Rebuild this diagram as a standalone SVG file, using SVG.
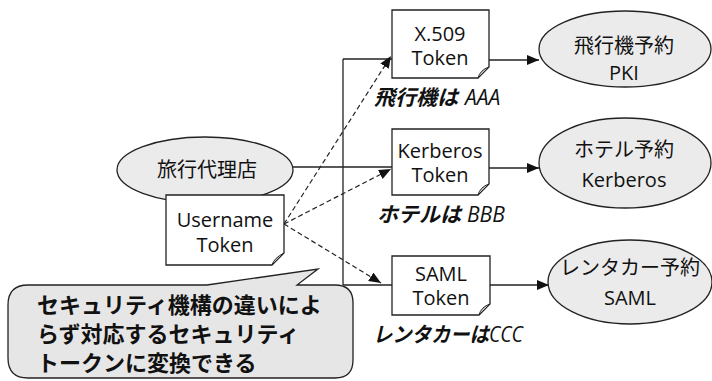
<svg xmlns="http://www.w3.org/2000/svg" width="712" height="381" viewBox="0 0 712 381">
<style>
.ln{fill:none;stroke:#222;stroke-width:1.3}
.ds{fill:none;stroke:#222;stroke-width:1.2;stroke-dasharray:5 3}
.el{fill:#ebebeb;stroke:#222;stroke-width:1.3}
.bx{fill:#fff;stroke:#222;stroke-width:1.3}
.fold{fill:#c8c8c8;stroke:#222;stroke-width:1}
.t{font-family:"Open Sans","Noto Sans CJK JP",sans-serif;font-size:20px;fill:#111;text-anchor:middle}
.j{font-family:"Noto Sans CJK JP",sans-serif;font-size:20px;fill:#111;text-anchor:middle}
.lb{font-family:"Open Sans","Noto Sans CJK JP",sans-serif;font-size:21px;font-style:italic;fill:#111}
.lbj{font-family:"Noto Sans CJK JP",sans-serif;font-weight:bold;font-size:21px}
.co{font-family:"Noto Sans CJK JP",sans-serif;font-size:22px;font-weight:bold;fill:#111}
</style>
<defs>
<marker id="ah" markerUnits="userSpaceOnUse" markerWidth="13" markerHeight="11" refX="12" refY="5" orient="auto">
<path d="M0,0 L12,5 L0,10 Z" fill="#111"/>
</marker>
</defs>

<g id="connectors">
<path class="ln" d="M293,167 H392"/>
<path class="ln" d="M343,59 V285"/>
<path class="ln" d="M343,59 H392"/>
<path class="ln" d="M343,285 H392"/>
<path class="ds" d="M284,224 L391,56" marker-end="url(#ah)"/>
<path class="ds" d="M284,224 L391,169" marker-end="url(#ah)"/>
<path class="ds" d="M284,224 L381,283" marker-end="url(#ah)"/>
<path class="ln" d="M489,60 H539" marker-end="url(#ah)"/>
<path class="ln" d="M489,168 H539" marker-end="url(#ah)"/>
<path class="ln" d="M490,285 H549" marker-end="url(#ah)"/>
</g>

<g id="travel-agency">
<ellipse class="el" cx="205" cy="170" rx="88" ry="33"/>
<text class="j" x="207" y="177">旅行代理店</text>
</g>

<g id="username-token">
<path class="bx" d="M166,195 H284 V253 L272,265 H166 Z"/>
<path class="fold" d="M284,253 L272,265 Q274,258 284,253 Z"/>
<text class="t" x="225" y="227">Username</text>
<text class="t" x="225" y="252">Token</text>
</g>

<g id="x509-token">
<path class="bx" d="M392,10 H489 V67 L478,78 H392 Z"/>
<path class="fold" d="M489,67 L478,78 Q480,70 489,67 Z"/>
<text class="t" x="440" y="41">X.509</text>
<text class="t" x="440" y="65">Token</text>
<text class="lb" x="374" y="105"><tspan class="lbj">飛行機は</tspan><tspan dx="7">AAA</tspan></text>
</g>

<g id="kerberos-token">
<path class="bx" d="M392,129 H489 V184 L478,195 H392 Z"/>
<path class="fold" d="M489,184 L478,195 Q480,187 489,184 Z"/>
<text class="t" x="440" y="158">Kerberos</text>
<text class="t" x="440" y="182">Token</text>
<text class="lb" x="377" y="222"><tspan class="lbj">ホテルは</tspan><tspan dx="6">BBB</tspan></text>
</g>

<g id="saml-token">
<path class="bx" d="M392,256 H490 V304 L479,315 H392 Z"/>
<path class="fold" d="M490,304 L479,315 Q481,307 490,304 Z"/>
<text class="t" x="441" y="281">SAML</text>
<text class="t" x="441" y="305">Token</text>
<text class="lb" x="373" y="342" textLength="150" lengthAdjust="spacingAndGlyphs"><tspan class="lbj">レンタカーは</tspan>CCC</text>
</g>

<g id="flight">
<ellipse class="el" cx="625" cy="49" rx="86" ry="38"/>
<text class="j" x="624" y="53">飛行機予約</text>
<text class="t" x="624" y="80">PKI</text>
</g>

<g id="hotel">
<ellipse class="el" cx="625" cy="163" rx="86" ry="45"/>
<text class="j" x="624" y="157">ホテル予約</text>
<text class="t" x="624" y="187">Kerberos</text>
</g>

<g id="rental">
<ellipse class="el" cx="630" cy="282" rx="82" ry="42"/>
<text class="j" x="630" y="275">レンタカー予約</text>
<text class="t" x="630" y="305">SAML</text>
</g>

<g id="callout">
<path d="M28,285 H207 L318,269 L297,285 H335 Q353,285 353,303 V360 Q353,378 335,378 H28 Q8,378 8,358 V305 Q8,285 28,285 Z" fill="#e6e6e6" stroke="#222" stroke-width="1.3"/>
<text class="co" x="37" y="313">セキュリティ機構の違いによ</text>
<text class="co" x="37" y="342">らず対応するセキュリティ</text>
<text class="co" x="37" y="371">トークンに変換できる</text>
</g>
</svg>
